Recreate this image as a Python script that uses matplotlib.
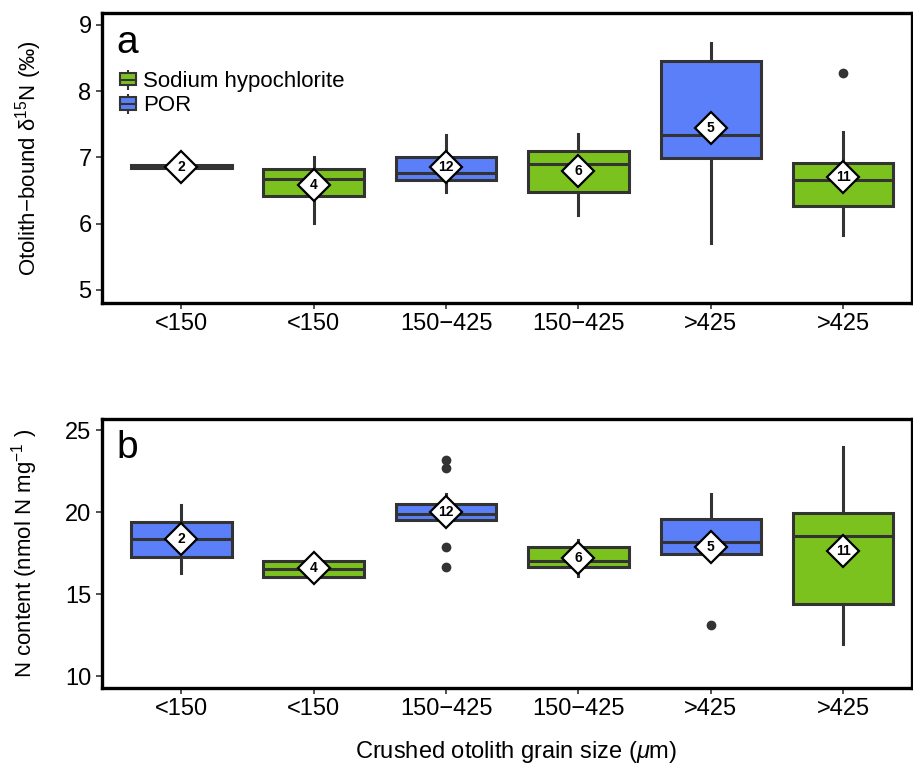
import matplotlib
matplotlib.use('Agg')
import matplotlib.pyplot as plt
from matplotlib.patches import Patch
from matplotlib.lines import Line2D
from matplotlib.legend_handler import HandlerTuple

plt.rcParams['font.family'] = ['Liberation Sans', 'DejaVu Sans']
plt.rcParams['mathtext.fontset'] = 'custom'
plt.rcParams['mathtext.rm'] = 'Liberation Sans'
plt.rcParams['mathtext.it'] = 'Liberation Sans:italic'

# categories and treatments (left to right)
size_labels = ['<150', '<150', '150\u2212425', '150\u2212425', '>425', '>425']
treatment = ['POR', 'Sodium hypochlorite', 'POR', 'Sodium hypochlorite', 'POR', 'Sodium hypochlorite']
n_samples = [2, 4, 12, 6, 5, 11]

# panel a: d15N
a_whislo = [6.84, 6.01, 6.48, 6.13, 5.70, 5.83]
a_q1 = [6.84, 6.42, 6.66, 6.47, 6.99, 6.26]
a_med = [6.87, 6.67, 6.77, 6.90, 7.33, 6.66]
a_q3 = [6.89, 6.83, 7.00, 7.10, 8.45, 6.92]
a_whishi = [6.89, 7.01, 7.34, 7.35, 8.72, 7.39]
a_mean = [6.86, 6.58, 6.86, 6.79, 7.44, 6.71]
a_fliers = [[], [], [], [], [], [8.27]]

# panel b: N content
b_whislo = [16.32, 16.04, 19.30, 16.14, 17.20, 11.96]
b_q1 = [17.30, 16.04, 19.54, 16.69, 17.44, 14.41]
b_med = [18.38, 16.55, 19.91, 17.04, 18.22, 18.58]
b_q3 = [19.44, 17.04, 20.52, 17.87, 19.60, 19.99]
b_whishi = [20.46, 17.10, 21.10, 18.32, 21.13, 24.02]
b_mean = [18.38, 16.60, 20.01, 17.20, 17.91, 17.67]
b_fliers = [[], [], [23.17, 22.68, 17.87, 16.69], [], [13.12], []]

colors = {'POR': '#5a7ff8', 'Sodium hypochlorite': '#7cc21f'}
edge = '#333333'


def make_stats(whislo, q1, med, q3, whishi, fliers):
    stats = []
    for i in range(len(med)):
        stats.append({'whislo': whislo[i], 'q1': q1[i], 'med': med[i],
                      'q3': q3[i], 'whishi': whishi[i], 'fliers': fliers[i]})
    return stats


def draw_panel(ax, stats, means, ylim, yticks, ylabel, letter):
    pos = list(range(1, len(stats) + 1))
    bp = ax.bxp(stats, positions=pos, widths=0.76, patch_artist=True,
                showcaps=False,
                boxprops=dict(edgecolor=edge, linewidth=2.2),
                medianprops=dict(color=edge, linewidth=2.2),
                whiskerprops=dict(color=edge, linewidth=2.2),
                flierprops=dict(marker='o', markerfacecolor=edge,
                                markeredgecolor=edge, markersize=6))
    for patch, t in zip(bp['boxes'], treatment):
        patch.set_facecolor(colors[t])
    for p, m, n in zip(pos, means, n_samples):
        ax.plot(p, m, marker='D', markersize=16.5, markerfacecolor='white',
                markeredgecolor='black', markeredgewidth=1.6, zorder=5)
        ax.text(p, m, str(n), ha='center', va='center', fontsize=10,
                fontweight='bold', zorder=6)
    ax.set_xlim(0.4, 6.52)
    ax.set_ylim(*ylim)
    ax.set_yticks(yticks)
    ax.set_xticks(pos)
    ax.set_xticklabels(size_labels)
    ax.tick_params(labelsize=17, length=4, width=1.2, color=edge)
    for s in ax.spines.values():
        s.set_linewidth(2.4)
    ax.set_ylabel(ylabel, fontsize=16)
    ax.text(0.018, 0.96, letter, transform=ax.transAxes, fontsize=28,
            va='top', ha='left')


fig = plt.figure(figsize=(9.13, 7.68), dpi=100)
ax1 = fig.add_axes([102 / 913, 1 - 303 / 768, 810 / 913, 290 / 768])
ax2 = fig.add_axes([102 / 913, 1 - 688 / 768, 810 / 913, 269 / 768])

draw_panel(ax1, make_stats(a_whislo, a_q1, a_med, a_q3, a_whishi, a_fliers),
           a_mean, (4.80, 9.18), [5, 6, 7, 8, 9],
           'Otolith\u2212bound \u03b4$^{15}$N (\u2030)', 'a')
draw_panel(ax2, make_stats(b_whislo, b_q1, b_med, b_q3, b_whishi, b_fliers),
           b_mean, (9.28, 25.7), [10, 15, 20, 25],
           'N content (nmol N mg$^{-1}$ )', 'b')
ax1.yaxis.set_label_coords(-0.072, 0.5)
ax2.yaxis.set_label_coords(-0.076, 0.5)

handles = []
for t in ['Sodium hypochlorite', 'POR']:
    whisk = Line2D([], [], marker='|', markersize=14, markeredgewidth=1.5,
                   color=edge, linestyle='none')
    box = Patch(facecolor=colors[t], edgecolor=edge, linewidth=1.5)
    med = Line2D([], [], color=edge, linewidth=1.5)
    handles.append((whisk, box, med))
ax1.legend(handles, ['Sodium hypochlorite', 'POR'],
           handler_map={tuple: HandlerTuple(ndivide=1, pad=0)},
           loc='upper left', bbox_to_anchor=(0.022, 0.80), frameon=False,
           fontsize=16, handlelength=0.75, handleheight=0.5, handletextpad=0.3,
           labelspacing=0.15, borderaxespad=0.0, borderpad=0.0)

fig.text(516 / 913, 1 - 752 / 768, 'Crushed otolith grain size ($\\mathit{\\mu}$m)',
         ha='center', va='center', fontsize=17)

fig.savefig('out.png', dpi=100)
